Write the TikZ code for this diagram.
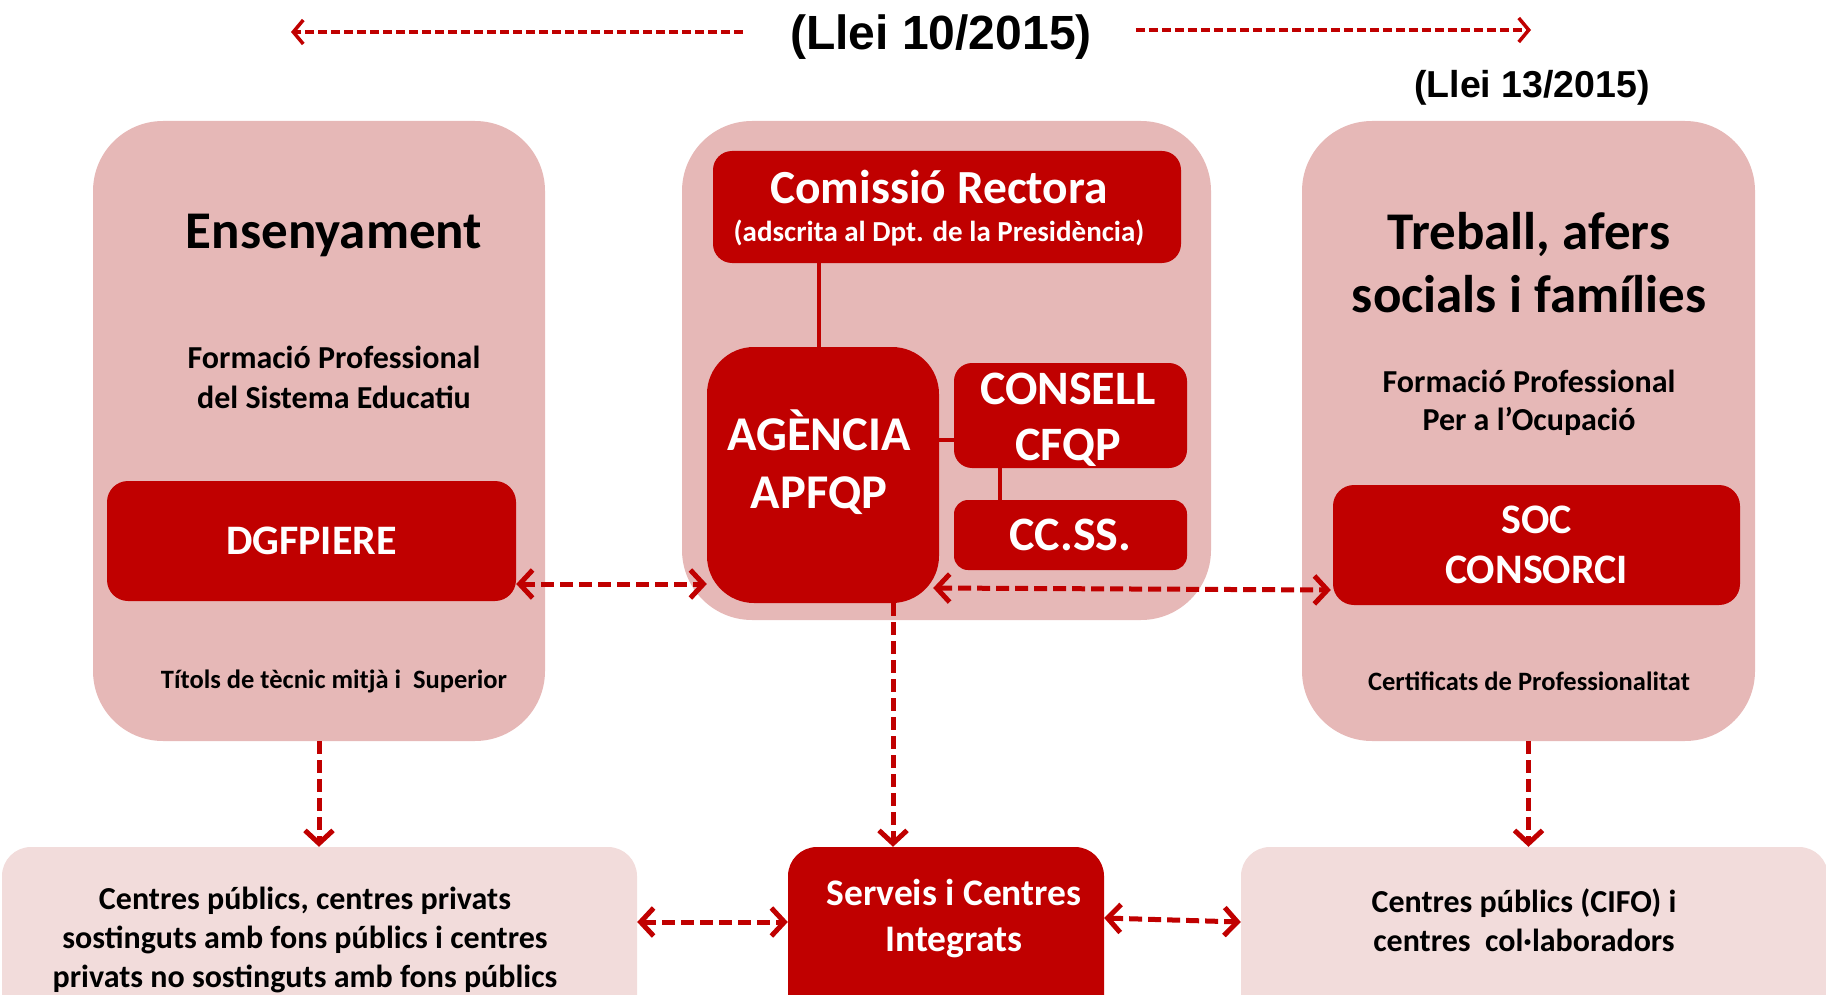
\documentclass[tikz,border=0pt]{standalone}
\usepackage{fontspec}
\setmainfont{Carlito}
\newfontfamily\arialf{Liberation Sans}
\usetikzlibrary{arrows.meta,calc}
\definecolor{dred}{HTML}{C00000}
\definecolor{pinkA}{HTML}{E6B8B7}
\definecolor{pinkB}{HTML}{F2DCDB}
\begin{document}
\begin{tikzpicture}[x=1pt,y=-1pt,
  panel/.style={fill=pinkA, draw=none, rounded corners=70pt, inner sep=0},
  lowbox/.style={fill=pinkB, draw=none, rounded corners=29pt, inner sep=0},
  redbox/.style={fill=dred, draw=none, inner sep=0, text=white, align=center},
  txt/.style={inner sep=0, align=center, text=black},
  solidcon/.style={draw=dred, line width=4pt},
  darr/.style={draw=dred, line width=5pt, dash pattern=on 13pt off 6pt,
    >={Straight Barb[length=13pt,width=28pt]}},
  tarr/.style={draw=dred, line width=3.5pt, dash pattern=on 9pt off 4pt,
    >={Straight Barb[length=10pt,width=24pt]}},
]
\useasboundingbox (0,0) rectangle (1826,995);

% top laws
\node[txt, font={\arialf\bfseries\fontsize{48}{54}\selectfont}] (l10) at (941,37) {(Llei 10/2015)};
\node[txt, font={\arialf\bfseries\fontsize{37.5}{42}\selectfont}] (l13) at (1532,88) {(Llei 13/2015)};
\coordinate (tl) at (291,32);
\coordinate (tr) at (1531,30);
\draw[tarr,->] ([xshift=-47pt,yshift=5pt]l10.west) -- (tl);
\draw[tarr,->] ([xshift=44pt,yshift=7pt]l10.east) -- (tr);

% panels
\node[panel, minimum width=452pt, minimum height=620pt] (lp) at (319,431) {};
\node[panel, minimum width=529pt, minimum height=499pt] (cp) at (946.5,370.5) {};
\node[panel, minimum width=453pt, minimum height=620pt] (rp) at (1528.5,431) {};

% left panel content
\node[txt, font={\bfseries\fontsize{53}{64}\selectfont}] (ens) at (334,235) {Ensenyament};
\node[txt, font={\bfseries\fontsize{32}{40}\selectfont}] (fpse) at (334,377) {Formació Professional\\del Sistema Educatiu};
\node[redbox, rounded corners=21pt, minimum width=409pt, minimum height=120pt,
  font={\bfseries\fontsize{42}{50}\selectfont}] (dg) at (311.5,541) {DGFPIERE};
\node[txt, font={\bfseries\fontsize{26.5}{30}\selectfont}] (tit) at (334,681) {Títols de tècnic mitjà i\ \ Superior};

% right panel content
\node[txt, font={\bfseries\fontsize{53}{63}\selectfont}] (treb) at (1529,263) {Treball, afers\\socials i famílies};
\node[txt, font={\bfseries\fontsize{32}{38}\selectfont}] (fpo) at (1529,403) {Formació Professional\\Per a l’Ocupació};
\node[redbox, rounded corners=21pt, minimum width=407pt, minimum height=120pt,
  font={\bfseries\fontsize{42}{50}\selectfont}] (soc) at (1536.5,545) {SOC\\CONSORCI};
\node[txt, font={\bfseries\fontsize{26.5}{30}\selectfont}] (cert) at (1529,681) {Certificats de Professionalitat};

% center panel content
\node[redbox, rounded corners=19pt, minimum width=468pt, minimum height=112pt] (com) at (947,207) {};
\node[txt, text=white, font={\bfseries\fontsize{47.5}{50}\selectfont}] (comt) at (939,187) {Comissió Rectora};
\node[txt, text=white, font={\bfseries\fontsize{29}{32}\selectfont}] (comst) at (939,233) {(adscrita al Dpt. de la Presidència)};
\node[redbox, rounded corners=47pt, minimum width=232pt, minimum height=256pt] (ag) at (823,475) {};
\node[txt, text=white, font={\bfseries\fontsize{48.5}{58}\selectfont}] (agt) at (819,462) {AGÈNCIA\\APFQP};
\node[redbox, rounded corners=18pt, minimum width=233pt, minimum height=105pt] (cons) at (1070.5,415.5) {};
\node[txt, text=white, font={\bfseries\fontsize{48}{56}\selectfont}] (const) at (1068,420) {CONSELL\\CFQP};
\node[redbox, rounded corners=14pt, minimum width=233pt, minimum height=70pt,
  font={\bfseries\fontsize{48}{50}\selectfont}] (ccss) at (1070.5,535) {CC.SS.};

\draw[solidcon] (com.south -| agt.north) -- (ag.north -| agt.north);
\draw[solidcon] ([yshift=-24pt]cons.west) -- ([yshift=-24pt]cons.west -| ag.east);
\draw[solidcon] ([xshift=-71pt]cons.south) -- ([xshift=-71pt]ccss.north);

% bottom boxes
\node[lowbox, minimum width=635pt, minimum height=183pt] (bl) at (319.5,938.5) {};
\node[txt, font={\bfseries\fontsize{32}{39}\selectfont}] (blt) at (305,940) {Centres públics, centres privats\\sostinguts amb fons públics i centres\\privats no sostinguts amb fons públics};
\node[redbox, rounded corners=29pt, minimum width=316pt, minimum height=183pt] (serv) at (946,938.5) {};
\node[txt, text=white, font={\bfseries\fontsize{37.5}{46}\selectfont}] (servt) at (954,919) {Serveis i Centres\\Integrats};
\node[lowbox, minimum width=587pt, minimum height=183pt] (br) at (1534.5,938.5) {};
\node[txt, font={\bfseries\fontsize{32}{39}\selectfont}] (brt) at (1524,920) {Centres públics (CIFO) i\\centres\ \ col·laboradors};

% dashed connectors
\draw[darr,<->] ([yshift=-43pt]dg.east) -- ([yshift=-43pt]dg.east -| ag.west);
\draw[darr,<->] ($(ag.east)+(-6,113)$) -- ($(soc.west)+(-2,45)$);
\draw[darr,->] ([xshift=70pt]ag.south) -- ([xshift=70pt]ag.south |- serv.north);
\draw[darr,->] (lp.south) -- (lp.south |- bl.north);
\draw[darr,->] (rp.south) -- (rp.south |- br.north);
\draw[darr,<->] ([yshift=16.5pt]bl.east) -- ([yshift=16.5pt]bl.east -| serv.west);
\draw[darr,<->] ([yshift=20.5pt]serv.east) -- ([yshift=16.5pt]br.west);
\end{tikzpicture}
\end{document}
